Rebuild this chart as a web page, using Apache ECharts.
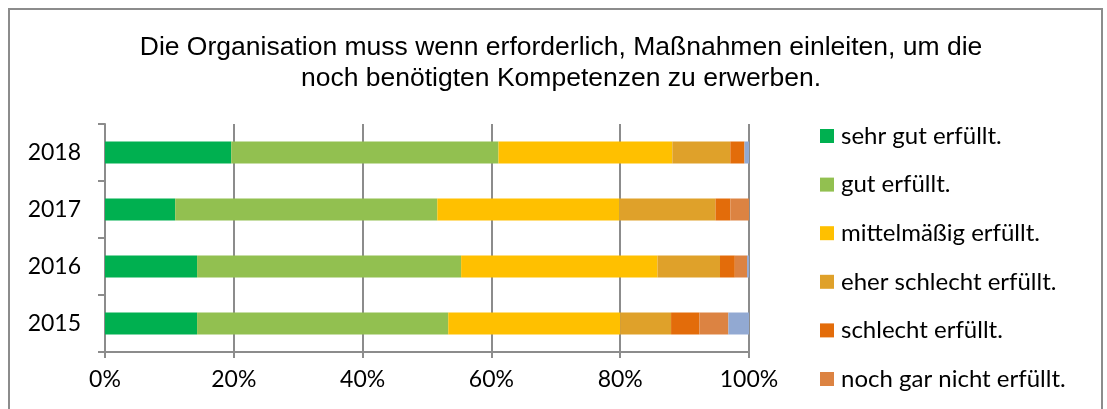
<!DOCTYPE html>
<html>
<head>
<meta charset="utf-8">
<script src="https://cdn.jsdelivr.net/npm/echarts@6/dist/echarts.min.js"></script>
<style>
html,body{margin:0;padding:0;background:#fff;}
#tb1{width:1107px;height:409px;}
</style>
</head>
<body>
<div id="tb1"></div>
<script>
// Daten (Anteile in %)
var jahre = ['2015', '2016', '2017', '2018'];
var sehrGut      = [14.3, 14.3, 10.9, 19.6];
var gut          = [39.0, 41.0, 40.7, 41.5];
var mittel       = [26.7, 30.5, 28.3, 27.0];
var eherSchlecht = [7.9, 9.7, 14.9, 9.0];
var schlecht     = [4.4, 2.3, 2.3, 2.2];
var garNicht     = [4.5, 1.9, 3.0, 0];
var keineAngabe  = [3.2, 0.3, 0, 0.7];
var xTicks = [0, 20, 40, 60, 80, 100];

var namen = ['sehr gut erfüllt.', 'gut erfüllt.', 'mittelmäßig erfüllt.',
    'eher schlecht erfüllt.', 'schlecht erfüllt.', 'noch gar nicht erfüllt.', 'keine Angabe'];
var farben = ['#00B050', '#92C050', '#FFC000', '#DFA12A', '#E36C0A', '#DC8342', '#92A9D2'];
var werte = [sehrGut, gut, mittel, eherSchlecht, schlecht, garNicht, keineAngabe];

myChart1 = echarts.init(document.getElementById('tb1'));

var serien = [];
for (var i = 0; i < namen.length; i++) {
    serien.push({
        name: namen[i],
        type: 'bar',
        stack: 'gesamt',
        barWidth: 22,
        data: werte[i],
        itemStyle: {color: farben[i]}
    });
}

option1 = {
    animation: false,
    textStyle: {fontFamily: 'Lato'},
    graphic: [{
        type: 'rect',
        shape: {x: 9, y: 9, width: 1093, height: 420},
        style: {fill: 'none', stroke: '#8c8c8c', lineWidth: 2},
        silent: true
    }],
    title: {
        text: 'Die Organisation muss wenn erforderlich, Maßnahmen einleiten, um die\nnoch benötigten Kompetenzen zu erwerben.',
        left: 556,
        top: 27,
        textAlign: 'center',
        textStyle: {
            fontFamily: 'Liberation Sans',
            fontWeight: 'normal',
            fontSize: 26.5,
            lineHeight: 31,
            color: '#000'
        }
    },
    legend: {
        data: namen.slice(0, 6),
        orient: 'vertical',
        left: 815,
        top: 119,
        height: 300,
        itemWidth: 14,
        itemHeight: 14,
        itemGap: 24.6,
        icon: 'rect',
        selectedMode: false,
        textStyle: {fontFamily: 'Lato', fontSize: 24, color: '#000', padding: [0, 0, 0, 2]}
    },
    grid: {left: 105, right: 358, top: 124, bottom: 57},
    xAxis: {
        type: 'value',
        min: xTicks[0],
        max: xTicks[xTicks.length - 1],
        interval: 20,
        axisLine: {show: true, lineStyle: {color: '#8c8c8c', width: 2}},
        axisTick: {show: true, length: 6, lineStyle: {color: '#8c8c8c', width: 2}},
        splitLine: {show: true, lineStyle: {color: '#8c8c8c', width: 2}},
        axisLabel: {formatter: '{value}%', fontFamily: 'Lato', fontSize: 23, color: '#000', margin: 16}
    },
    yAxis: {
        type: 'category',
        data: jahre,
        axisLine: {show: true, lineStyle: {color: '#8c8c8c', width: 2}},
        axisTick: {show: true, length: 7, lineStyle: {color: '#8c8c8c', width: 2}},
        axisLabel: {fontFamily: 'Lato', fontSize: 23, color: '#000', margin: 24}
    },
    series: serien
};
myChart1.setOption(option1);
</script>
</body>
</html>
